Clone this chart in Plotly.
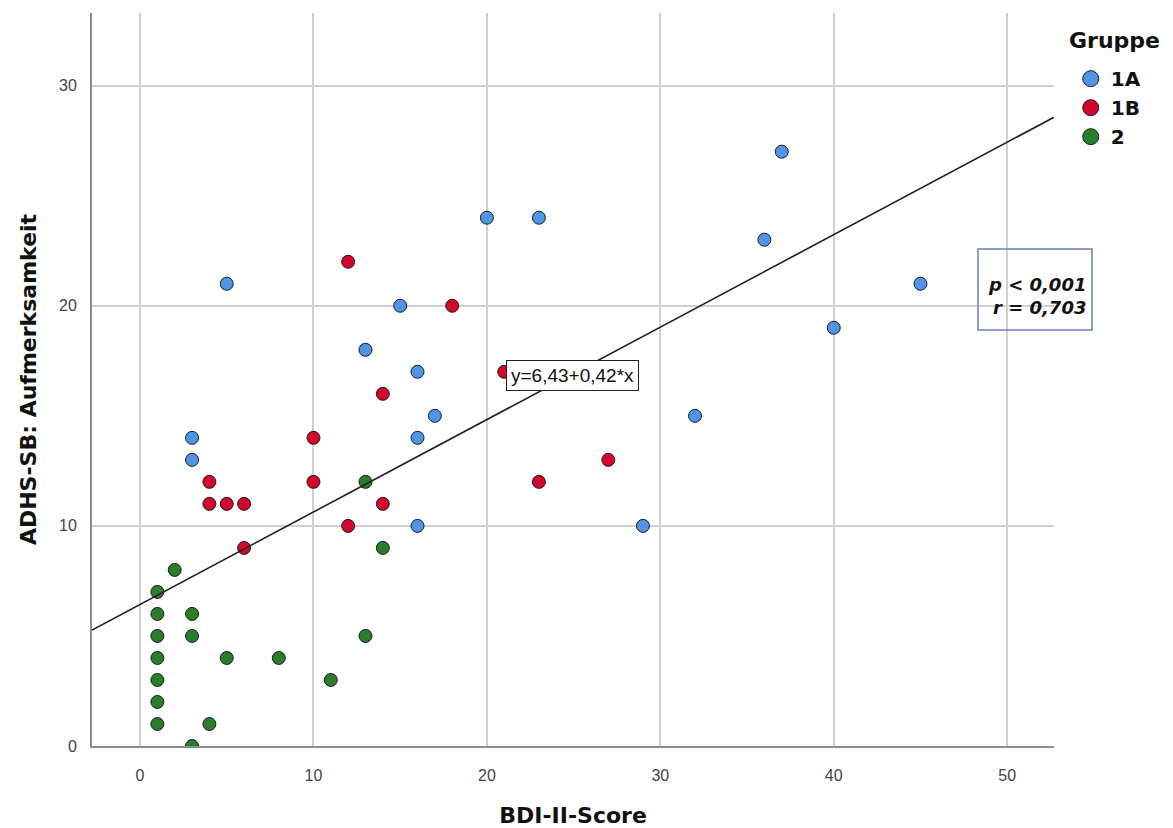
import plotly.graph_objects as go

# ---- data ----
bdi_1a = [5, 3, 3, 13, 15, 16, 16, 17, 16, 20, 23, 29, 32, 36, 37, 40, 45]
adhs_1a = [21, 14, 13, 18, 20, 17, 14, 15, 10, 24, 24, 10, 15, 23, 27, 19, 21]

bdi_1b = [12, 18, 14, 21, 10, 4, 4, 5, 6, 10, 12, 14, 6, 23, 27]
adhs_1b = [22, 20, 16, 17, 14, 12, 11, 11, 11, 12, 10, 11, 9, 12, 13]

bdi_2 = [1, 2, 1, 3, 1, 3, 1, 5, 8, 13, 1, 11, 1, 1, 4, 3, 13, 14]
adhs_2 = [7, 8, 6, 6, 5, 5, 4, 4, 4, 5, 3, 3, 2, 1, 1, 0, 12, 9]

groups = ["1A", "1B", "2"]
colors = ["#4f95e6", "#d3072e", "#2a7d2a"]

intercept = 6.43
slope = 0.42
x_range = [-2.77, 52.7]
y_range = [0, 33.3]
x_ticks = [0, 10, 20, 30, 40, 50]
y_ticks = [0, 10, 20, 30]

fig = go.Figure()

series = [(bdi_1a, adhs_1a), (bdi_1b, adhs_1b), (bdi_2, adhs_2)]
for (xs, ys), name, col in zip(series, groups, colors):
    fig.add_trace(go.Scatter(
        x=xs, y=ys, mode="markers", name=name, showlegend=False,
        marker=dict(size=13, color=col, line=dict(color="#1a1a1a", width=1)),
    ))

# regression line
fig.add_trace(go.Scatter(
    x=x_range, y=[intercept + slope * v for v in x_range], mode="lines",
    line=dict(color="#1e1e1e", width=1.6), showlegend=False, hoverinfo="skip",
))

# legend entries (larger symbols)
for name, col in zip(groups, colors):
    fig.add_trace(go.Scatter(
        x=[None], y=[None], mode="markers", name="<b>" + name + "</b>",
        marker=dict(size=16, color=col, line=dict(color="#1a1a1a", width=1)),
    ))

# equation label
fig.add_annotation(
    x=24.96, y=16.82, xref="x", yref="y", showarrow=False,
    text="y=6,43+0,42*x",
    font=dict(family="Liberation Sans", size=19, color="#111"),
    bgcolor="white", bordercolor="#222", borderwidth=1, borderpad=4,
)

# stats box
fig.add_shape(
    type="rect", xref="paper", yref="paper",
    x0=0.921, x1=1.0395, y0=0.5675, y1=0.678,
    line=dict(color="#6b7db8", width=1.5), fillcolor="rgba(0,0,0,0)",
)
fig.add_annotation(
    x=1.0353, y=0.614, xref="paper", yref="paper", xanchor="right", yanchor="middle",
    showarrow=False, align="right",
    text="<b><i>p < 0,001</i></b><br><b><i>r = 0,703</i></b>",
    font=dict(family="DejaVu Sans", size=18, color="#111"),
)

# legend title as annotation
fig.add_annotation(
    x=1.0135, y=0.963, xref="paper", yref="paper", xanchor="left", yanchor="middle",
    showarrow=False, text="<b>Gruppe</b>",
    font=dict(family="DejaVu Sans", size=22, color="#111"),
)

# page body has an 8px margin: shrink figure so the plot area lands at the reference spot
fig.update_layout(
    width=1165, height=820,
    margin=dict(l=84, r=119, t=5, b=82, autoexpand=False),
    plot_bgcolor="white", paper_bgcolor="white",
    showlegend=True,
    legend=dict(
        x=1.0174, y=0.937, xanchor="left", yanchor="top",
        font=dict(family="DejaVu Sans", size=20, color="#111"),
        tracegroupgap=0, itemsizing="trace",
    ),
    xaxis=dict(
        range=x_range, tickvals=x_ticks, showgrid=True, gridcolor="#d0d0d0", gridwidth=1.5,
        zeroline=False, showline=True, linecolor="#8c8c8c", linewidth=2,
        ticks="", ticklabelstandoff=14, automargin=False,
        tickfont=dict(family="Liberation Sans", size=16, color="#444"),
        title=dict(text="<b>BDI-II-Score</b>", standoff=24,
                   font=dict(family="DejaVu Sans", size=22, color="#111")),
    ),
    yaxis=dict(
        range=y_range, tickvals=y_ticks, showgrid=True, gridcolor="#d0d0d0", gridwidth=1.5,
        zeroline=False, showline=True, linecolor="#8c8c8c", linewidth=2,
        ticks="", ticklabelstandoff=10, automargin=False,
        tickfont=dict(family="Liberation Sans", size=16, color="#444"),
        title=dict(text="<b>ADHS-SB: Aufmerksamkeit</b>", standoff=16,
                   font=dict(family="DejaVu Sans", size=22, color="#111")),
    ),
)

fig.write_html("out.html")
